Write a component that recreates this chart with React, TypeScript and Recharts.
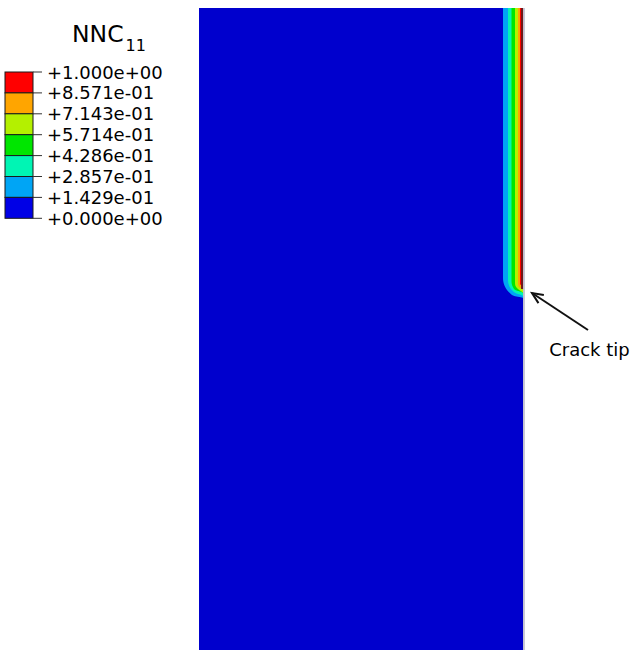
import React from 'react';
import { ComposedChart, Area, XAxis, YAxis, ReferenceLine, Legend } from 'recharts';

// Depth below the top edge of the specimen (mm) at which each contour row is sampled
const depth = [0, 8.333, 8.426, 8.519, 8.611, 8.704, 8.796, 8.889, 8.951, 19.815];
// Specimen width (mm) — whole body, value band 0 .. 0.143
const specimenWidth = [10, 10, 10, 10, 10, 10, 10, 10, 10, 10];
// Distance from the crack face (mm) to the iso-lines of NNC11
const iso143 = [0.617, 0.617, 0.61, 0.589, 0.551, 0.494, 0.408, 0.269, 0, 0];
const iso286 = [0.463, 0.463, 0.462, 0.446, 0.41, 0.345, 0.231, 0, 0, 0];
const iso429 = [0.355, 0.355, 0.355, 0.346, 0.312, 0.239, 0, 0, 0, 0];
const iso571 = [0.247, 0.247, 0.247, 0.245, 0.214, 0.119, 0, 0, 0, 0];
const iso714 = [0.154, 0.154, 0.154, 0.154, 0.123, 0, 0, 0, 0, 0];
const iso857 = [0.093, 0.093, 0.093, 0.093, 0, 0, 0, 0, 0, 0];

// Legend (top to bottom)
const legendLabels = [
  '+1.000e+00', '+8.571e-01', '+7.143e-01', '+5.714e-01',
  '+4.286e-01', '+2.857e-01', '+1.429e-01', '+0.000e+00',
];
const legendColors = ['#FF0000', '#FFA500', '#B4F000', '#00E600', '#00F5B4', '#00A5F5', '#0000E6'];
const bodyColor = '#0000CD';

const crackLength = 8.67;
// Annotation: tail and head of the "Crack tip" arrow (mm; x = distance from crack face)
const arrowTail = { x: -2.006, y: 9.938 };
const arrowHead = { x: -0.278, y: 8.796 };
const crackTipText = 'Crack tip';

const data = depth.map((d, i) => ({
  depth: d,
  body: specimenWidth[i],
  b143: iso143[i],
  b286: iso286[i],
  b429: iso429[i],
  b571: iso571[i],
  b714: iso714[i],
  b857: iso857[i],
}));

const bands = [
  { key: 'body', color: bodyColor, type: 'linear' },
  { key: 'b143', color: legendColors[5], type: 'monotone' },
  { key: 'b286', color: legendColors[4], type: 'monotone' },
  { key: 'b429', color: legendColors[3], type: 'monotone' },
  { key: 'b571', color: legendColors[2], type: 'monotone' },
  { key: 'b714', color: legendColors[1], type: 'monotone' },
  { key: 'b857', color: legendColors[0], type: 'monotone' },
];

const FONT = 'DejaVu Sans, Verdana, sans-serif';

const ContourLegend = () => {
  const top = 72;
  const step = 20.9;
  return (
    <svg width={180} height={232} style={{ display: 'block' }}>
      <text x={72} y={41.5} fontSize={23.5} fontFamily={FONT} fill="#000">
        NNC
        <tspan fontSize={16} dx={2} dy={9.5}>11</tspan>
      </text>
      {legendColors.map((c, i) => (
        <rect key={c} x={5} y={top + i * step} width={28} height={step} fill={c} stroke="#1a1a1a" strokeWidth={1} />
      ))}
      {legendLabels.map((l, i) => (
        <g key={l}>
          <line x1={33} x2={42} y1={top + i * step} y2={top + i * step} stroke="#333" strokeWidth={1} />
          <text x={47} y={top + i * step} dominantBaseline="central" fontSize={18} fontFamily={FONT} fill="#000">
            {l}
          </text>
        </g>
      ))}
    </svg>
  );
};

const ArrowShape = (props: any) => {
  const { x1, y1, x2, y2 } = props;
  if ([x1, y1, x2, y2].some((v) => typeof v !== 'number' || isNaN(v))) return null;
  const dx = x1 - x2;
  const dy = y1 - y2;
  const len = Math.sqrt(dx * dx + dy * dy) || 1;
  const ux = dx / len;
  const uy = dy / len;
  const hl = 12;
  const ang = (24 * Math.PI) / 180;
  const rot = (a: number) => ({
    x: x2 + hl * (ux * Math.cos(a) - uy * Math.sin(a)),
    y: y2 + hl * (ux * Math.sin(a) + uy * Math.cos(a)),
  });
  const p1 = rot(ang);
  const p2 = rot(-ang);
  return (
    <g>
      <line x1={x1} y1={y1} x2={x2} y2={y2} stroke="#111" strokeWidth={2} />
      <polyline points={`${p1.x},${p1.y} ${x2},${y2} ${p2.x},${p2.y}`} fill="none" stroke="#111" strokeWidth={2} />
      <text x={x1 + 1.5} y={y1 + 26} textAnchor="middle" fontSize={18} fontFamily={FONT} fill="#000">
        {crackTipText}
      </text>
    </g>
  );
};

export default function App() {
  return (
    <div style={{ position: 'absolute', left: 0, top: 0, width: 634, height: 650, fontFamily: FONT, background: '#fff' }}>
      <ComposedChart
        width={634}
        height={650}
        layout="vertical"
        data={data}
        margin={{ top: 8, right: 111, bottom: 0, left: 199 }}
      >
        <XAxis type="number" domain={[0, 10]} reversed hide allowDataOverflow />
        <YAxis type="number" dataKey="depth" domain={[0, 19.815]} hide allowDataOverflow />
        {bands.map((b) => (
          <Area
            key={b.key}
            dataKey={b.key}
            type={b.type as any}
            fill={b.color}
            fillOpacity={1}
            stroke="none"
            isAnimationActive={false}
            legendType="none"
            activeDot={false}
            dot={false}
          />
        ))}
        <ReferenceLine
          segment={[{ x: 0.03, y: 0 }, { x: 0.03, y: crackLength }]}
          stroke="#6e1a1a"
          strokeWidth={2}
          ifOverflow="visible"
        />
        <ReferenceLine
          segment={[{ x: -0.03, y: 0 }, { x: -0.03, y: 19.815 }]}
          stroke="#8c8ca8"
          strokeWidth={1}
          ifOverflow="visible"
        />
        <ReferenceLine
          segment={[arrowTail, arrowHead]}
          ifOverflow="visible"
          shape={ArrowShape}
        />
        <Legend
          layout="vertical"
          align="center"
          verticalAlign="middle"
          wrapperStyle={{ left: 0, top: 0, width: 180, height: 232 }}
          content={() => <ContourLegend />}
        />
      </ComposedChart>
    </div>
  );
}
